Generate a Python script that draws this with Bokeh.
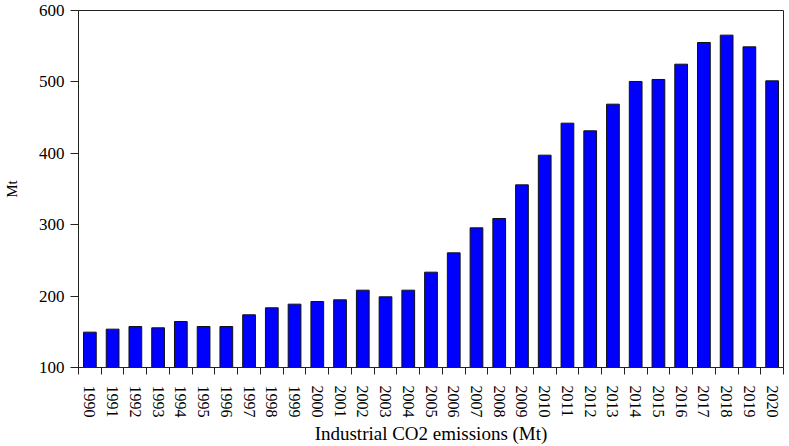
from bokeh.plotting import figure
from bokeh.models import Range1d, FixedTicker
from bokeh.embed import file_html
from bokeh.resources import INLINE

years = ["1990", "1991", "1992", "1993", "1994", "1995", "1996", "1997",
         "1998", "1999", "2000", "2001", "2002", "2003", "2004", "2005",
         "2006", "2007", "2008", "2009", "2010", "2011", "2012", "2013",
         "2014", "2015", "2016", "2017", "2018", "2019", "2020"]
emissions = [149.5, 153.7, 157.4, 155.6, 164.4, 157.4, 157.4, 173.8,
             183.6, 188.7, 192.4, 194.8, 208.3, 199.0, 208.3, 233.5,
             260.6, 295.6, 308.7, 355.8, 397.4, 442.2, 431.5, 468.8,
             500.6, 503.4, 524.8, 555.2, 565.5, 549.1, 501.5]
y_ticks = [100, 200, 300, 400, 500, 600]
x_title = "Industrial CO2 emissions (Mt)"
y_title = "Mt"

FONT = "Liberation Serif"

idx = list(range(len(years)))
boundaries = [i - 0.5 for i in range(len(years) + 1)]

p = figure(width=789, height=446, output_backend="svg", toolbar_location=None,
           tools="", x_range=Range1d(-0.5, len(years) - 0.5),
           y_range=Range1d(y_ticks[0], y_ticks[-1]),
           min_border_left=77, min_border_right=6, min_border_top=10,
           min_border_bottom=79)

p.vbar(x=idx, top=emissions, bottom=y_ticks[0], width=0.56,
       fill_color="#0000FF", line_color="#111111", line_width=1)

p.xgrid.visible = False
p.ygrid.visible = False
p.outline_line_color = "#222222"
p.outline_line_width = 1
p.outline_line_alpha = 1
p.background_fill_color = "white"
p.border_fill_color = "white"

xa = p.xaxis[0]
xa.ticker = FixedTicker(ticks=idx, minor_ticks=boundaries)
xa.major_label_overrides = {i: y for i, y in enumerate(years)}
xa.major_tick_out = 0
xa.major_tick_in = 0
xa.minor_tick_out = 7
xa.minor_tick_in = 0
xa.minor_tick_line_color = "#222222"
xa.axis_line_color = "#222222"
xa.major_label_orientation = "vertical"
xa.major_label_standoff = 11
xa.major_label_text_font = FONT
xa.major_label_text_font_size = "16px"
xa.major_label_text_color = "black"
xa.axis_label = x_title
xa.axis_label_text_font = FONT
xa.axis_label_text_font_size = "19px"
xa.axis_label_text_font_style = "normal"
xa.axis_label_text_color = "black"
xa.axis_label_standoff = 2

ya = p.yaxis[0]
ya.ticker = FixedTicker(ticks=y_ticks)
ya.major_tick_out = 8
ya.major_tick_in = 0
ya.major_tick_line_color = "#222222"
ya.axis_line_color = "#222222"
ya.major_label_standoff = 6
ya.major_label_text_font = FONT
ya.major_label_text_font_size = "17px"
ya.major_label_text_color = "black"
ya.axis_label = y_title
ya.axis_label_text_font = FONT
ya.axis_label_text_font_size = "15px"
ya.axis_label_text_font_style = "normal"
ya.axis_label_text_color = "black"
ya.axis_label_standoff = 16

open("out.html", "w").write(file_html(p, INLINE))
